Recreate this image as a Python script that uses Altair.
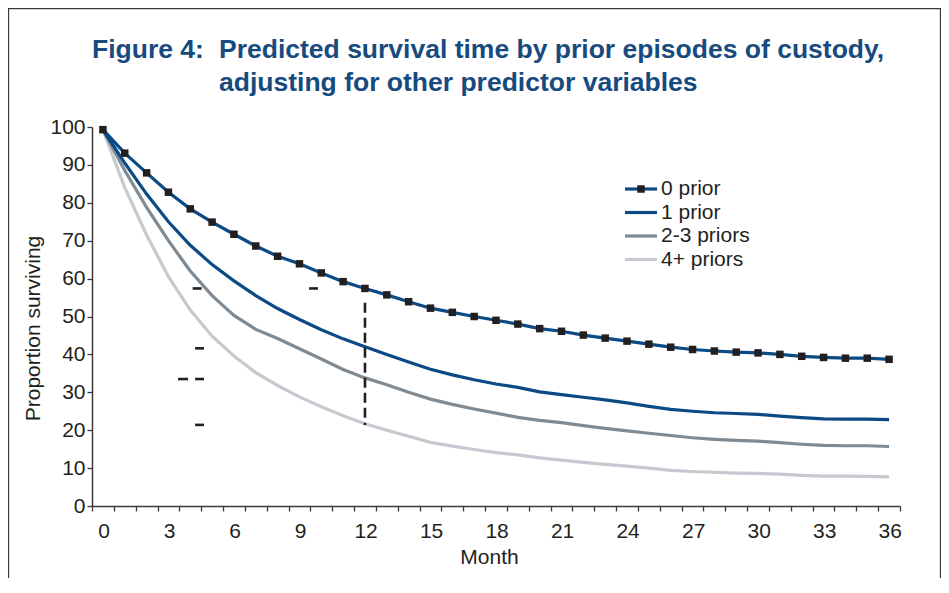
import altair as alt
import pandas as pd

# ---------------- data ----------------
months = list(range(37))
series_names = ["0 prior", "1 prior", "2-3 priors", "4+ priors"]
series_colors = ["#0b4a84", "#0b4a84", "#7f8a93", "#c5c9d0"]

prior0 = [99.3, 93.1, 87.9, 82.8, 78.4, 74.9, 71.7, 68.6, 65.9, 63.9, 61.5, 59.2,
          57.4, 55.7, 53.9, 52.2, 51.1, 50.0, 49.0, 48.0, 46.8, 46.1, 45.1, 44.3,
          43.5, 42.7, 41.9, 41.3, 40.9, 40.6, 40.4, 40.0, 39.5, 39.2, 39.0, 39.0, 38.7]
prior1 = [99.3, 90.5, 82.3, 75.0, 68.8, 63.7, 59.4, 55.5, 52.1, 49.2, 46.5, 44.1,
          42.0, 40.0, 38.0, 36.1, 34.6, 33.3, 32.2, 31.3, 30.1, 29.4, 28.7, 28.0,
          27.2, 26.3, 25.5, 25.0, 24.6, 24.4, 24.2, 23.7, 23.3, 23.0, 22.9, 22.9, 22.8]
prior23 = [99.3, 88.5, 78.8, 70.0, 62.0, 55.5, 50.3, 46.6, 44.2, 41.5, 38.8, 36.0,
           33.8, 32.0, 30.0, 28.2, 26.8, 25.6, 24.5, 23.4, 22.6, 22.0, 21.2, 20.5,
           19.8, 19.2, 18.6, 18.0, 17.6, 17.3, 17.1, 16.7, 16.3, 16.0, 15.9, 15.9, 15.7]
prior4 = [99.3, 84.0, 71.5, 60.5, 51.7, 44.8, 39.6, 35.2, 31.8, 28.8, 26.2, 23.8,
          21.7, 20.0, 18.4, 16.8, 15.8, 14.9, 14.1, 13.5, 12.7, 12.1, 11.5, 11.0,
          10.5, 10.0, 9.4, 9.1, 8.9, 8.7, 8.6, 8.4, 8.1, 7.9, 7.9, 7.8, 7.7]

# reference line at month 12 (vertical dashed) and remnant dash fragments
vref_month = [12]
vref_top = [53.6]
vref_bottom = [21.4]
frag_x1 = [4.11, 9.44, 4.22, 3.44, 4.22, 4.22]
frag_x2 = [4.52, 9.85, 4.63, 3.90, 4.63, 4.63]
frag_y = [57.4, 57.4, 41.6, 33.5, 33.5, 21.4]

y_ticks = list(range(0, 101, 10))
x_boundaries = [m - 0.5 for m in range(38)]

title_lead = "Figure 4:"
title_lines = ["Predicted survival time by prior episodes of custody,",
               "adjusting for other predictor variables"]

# ---------------- tables ----------------
rows = []
for name, vals in zip(series_names, [prior0, prior1, prior23, prior4]):
    for m, v in zip(months, vals):
        rows.append({"Month": m, "Survival": v, "Series": name})
df = pd.DataFrame(rows)
vref_df = pd.DataFrame({"m": vref_month, "top": vref_top, "bottom": vref_bottom})
frag_df = pd.DataFrame({"x1": frag_x1, "x2": frag_x2, "y": frag_y})
one = pd.DataFrame({"a": [0]})

FONT = "Liberation Sans"
INK = "#231f20"
NAVY = "#174b80"
AX = "#3a3a3a"
FS = 21

xscale = alt.Scale(domain=[-0.5, 36.5], nice=False, zero=False)
yscale = alt.Scale(domain=[0, 100], nice=False)
cscale = alt.Scale(domain=series_names, range=series_colors)

x_axis = alt.Axis(
    values=x_boundaries,
    labelExpr="((datum.value + 0.5) % 3 == 0 && datum.value < 36) ? format(datum.value + 0.5, 'd') : ''",
    labelOffset=11.5, labelFlush=False, labelOverlap=False, labelBound=False,
    labelFontSize=FS, labelPadding=9, labelColor=INK, labelFont=FONT,
    tickSize=5, tickColor=AX, tickWidth=1.3,
    domainColor=AX, domainWidth=1.5, grid=False,
    title="Month", titleFontSize=FS, titleFontWeight="normal", titleColor=INK,
    titleFont=FONT, titlePadding=5, titleX=397,
)
y_axis = alt.Axis(
    values=y_ticks, labelFontSize=FS, labelPadding=2, labelColor=INK, labelFont=FONT,
    tickSize=5, tickColor=AX, tickWidth=1.3,
    domainColor=AX, domainWidth=1.5, grid=False,
    title="Proportion surviving", titleFontSize=FS, titleFontWeight="normal",
    titleColor=INK, titleFont=FONT, titleX=-59, titleY=201,
    titleBaseline="middle", titleAlign="center",
)

def X(field):
    return alt.X(field, scale=xscale, axis=x_axis)

def Y(field):
    return alt.Y(field, scale=yscale, axis=y_axis)

layers = []

# frame around figure
layers.append(alt.Chart(one).mark_rect(fillOpacity=0, stroke=AX, strokeWidth=1.3).encode(
    x=alt.value(-83.5), x2=alt.value(848.5), y=alt.value(-118.5), y2=alt.value(520)))

# series lines (bottom to top)
for name in reversed(series_names):
    layers.append(
        alt.Chart(df).transform_filter(alt.datum.Series == name)
        .mark_line(strokeWidth=3.2)
        .encode(
            x=X("Month:Q"),
            y=Y("Survival:Q"),
            color=alt.Color("Series:N", scale=cscale, legend=None),
        )
    )

# markers on 0 prior
layers.append(
    alt.Chart(df).transform_filter(alt.datum.Series == "0 prior")
    .mark_point(shape="square", filled=True, size=56, color=INK, opacity=1)
    .encode(x=X("Month:Q"), y=Y("Survival:Q"))
)

# vertical dashed reference line
layers.append(
    alt.Chart(vref_df).mark_rule(strokeDash=[10, 5], strokeWidth=2.6, color=INK).encode(
        x=X("m:Q"), y=Y("top:Q"), y2="bottom:Q")
)
# fragments of horizontal dashed lines
layers.append(
    alt.Chart(frag_df).mark_rule(strokeWidth=2.6, color=INK).encode(
        x=X("x1:Q"), x2="x2:Q", y=Y("y:Q"))
)

# legend (drawn manually)
leg_x0, leg_x1, leg_tx = 533, 565, 569
leg_y = [62, 85.5, 109, 132.5]
for name, col, yy in zip(series_names, series_colors, leg_y):
    layers.append(alt.Chart(one).mark_rule(strokeWidth=3.2, color=col).encode(
        x=alt.value(leg_x0), x2=alt.value(leg_x1), y=alt.value(yy)))
    layers.append(alt.Chart(one).mark_text(align="left", baseline="middle", fontSize=FS,
                                           font=FONT, color=INK).encode(
        x=alt.value(leg_tx), y=alt.value(yy), text=alt.value(name)))
layers.append(alt.Chart(one).mark_point(shape="square", filled=True, size=56, color=INK, opacity=1).encode(
    x=alt.value((leg_x0 + leg_x1) / 2), y=alt.value(leg_y[0])))

# title
layers.append(alt.Chart(one).mark_text(align="left", baseline="alphabetic", fontSize=26.5,
                                       fontWeight="bold", font=FONT, color=NAVY).encode(
    x=alt.value(0), y=alt.value(-69), text=alt.value(title_lead)))
for i, line in enumerate(title_lines):
    layers.append(alt.Chart(one).mark_text(align="left", baseline="alphabetic", fontSize=26.5,
                                           fontWeight="bold", font=FONT, color=NAVY).encode(
        x=alt.value(127), y=alt.value(-69 + 33 * i), text=alt.value(line)))

chart = alt.layer(*layers).properties(
    width=808, height=379,
    autosize=alt.AutoSizeParams(type="none"),
    padding={"left": 84, "top": 119, "right": 41, "bottom": 72},
    background="white",
).configure_view(stroke=None)

chart.save("out.html", embed_options={"renderer": "svg", "actions": False})
